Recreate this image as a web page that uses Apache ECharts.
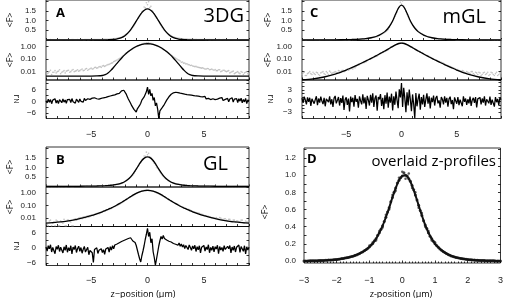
<!DOCTYPE html>
<html>
<head>
<meta charset="utf-8">
<script src="https://cdn.jsdelivr.net/npm/echarts@6/dist/echarts.min.js"></script>
<style>html,body{margin:0;padding:0;background:#fff}#chart{width:506px;height:298px}</style>
</head>
<body>
<div id="chart"></div>
<script>
// fit curves, sampled at zFit (µm)
var zFit = [-9,-8,-7,-6,-5,-4.5,-4,-3.75,-3.5,-3.25,-3,-2.75,-2.5,-2.25,-2,-1.75,-1.5,-1.25,-1,-0.75,-0.5,-0.25,0,0.25,0.5,0.75,1,1.25,1.5,1.75,2,2.25,2.5,2.75,3,3.25,3.5,3.75,4,4.5,5,6,7,8,9];
var fitA = [0.0045,0.0045,0.0045,0.0045,0.0045,0.0046,0.0050,0.0059,0.0080,0.0126,0.0223,0.041,0.075,0.132,0.221,0.351,0.524,0.737,0.975,1.212,1.416,1.555,1.605,1.555,1.416,1.212,0.975,0.737,0.524,0.351,0.221,0.132,0.075,0.041,0.0223,0.0126,0.0080,0.0059,0.0050,0.0046,0.0045,0.0045,0.0045,0.0045,0.0045];
var fitC = [0.0023,0.0027,0.0038,0.0065,0.0135,0.021,0.033,0.042,0.053,0.068,0.087,0.112,0.145,0.19,0.25,0.33,0.43,0.58,0.78,1.05,1.38,1.68,1.80,1.68,1.38,1.05,0.78,0.58,0.43,0.33,0.25,0.19,0.145,0.112,0.087,0.068,0.053,0.042,0.033,0.021,0.0135,0.0065,0.0038,0.0027,0.0023];
var fitB = [0.0040,0.0048,0.0062,0.0092,0.016,0.022,0.032,0.040,0.050,0.063,0.080,0.105,0.14,0.19,0.26,0.36,0.50,0.69,0.91,1.15,1.36,1.50,1.55,1.50,1.36,1.15,0.91,0.69,0.50,0.36,0.26,0.19,0.14,0.105,0.080,0.063,0.050,0.040,0.032,0.022,0.016,0.0092,0.0062,0.0048,0.0040];

// measured <F>, two profiles each: z = -9 + 0.2 i  and  z = -8.9 + 0.2 i
var dataA1 = [0.011,0.008,0.013,0.009,0.012, 0.010,0.014,0.009,0.012,0.011, 0.013,0.010,0.015,0.011,0.014, 0.012,0.016,0.013,0.018,0.015, 0.019,0.017,0.022,0.020,0.025, 0.028,0.026,0.034,0.038,0.047, 0.062,0.075,0.095,0.12,0.17, 0.25,0.33,0.44,0.58,0.74, 0.94,1.13,1.33,1.50,1.66, 1.82,1.68,1.52,1.34,1.14, 0.95,0.76,0.58,0.44,0.33, 0.25,0.18,0.13,0.10,0.078, 0.056,0.047,0.041,0.036,0.031, 0.028,0.025,0.023,0.021,0.019, 0.018,0.016,0.017,0.015,0.014, 0.015,0.012,0.014,0.011,0.013, 0.010,0.012,0.009,0.011,0.008, 0.010,0.007,0.009,0.008,0.010, 0.007];
var dataA2 = [0.007,0.010,0.006,0.009,0.008, 0.011,0.007,0.010,0.008,0.012, 0.009,0.013,0.010,0.012,0.011, 0.014,0.012,0.016,0.013,0.017, 0.016,0.021,0.019,0.024,0.022, 0.030,0.029,0.036,0.042,0.050, 0.068,0.082,0.11,0.14,0.20, 0.29,0.38,0.51,0.66,0.84, 1.04,1.24,1.46,1.71,1.93, 1.98,1.74,1.45,1.22,1.02, 0.84,0.66,0.50,0.38,0.28, 0.21,0.15,0.115,0.088,0.070, 0.058,0.049,0.042,0.035,0.032, 0.027,0.026,0.022,0.020,0.020, 0.016,0.018,0.014,0.016,0.013, 0.012,0.014,0.010,0.013,0.011, 0.011,0.008,0.010,0.007,0.009, 0.008,0.010,0.006,0.009,0.007];
var dataC1 = [0.006,0.009,0.005,0.008,0.007, 0.009,0.006,0.008,0.005,0.009, 0.007,0.010,0.006,0.009,0.008, 0.010,0.008,0.011,0.012,0.010, 0.014,0.013,0.017,0.016,0.020, 0.034,0.036,0.045,0.050,0.061, 0.088,0.10,0.12,0.15,0.17, 0.25,0.29,0.36,0.44,0.54, 0.80,0.98,1.22,1.45,1.70, 1.86,1.75,1.48,1.20,0.96, 0.76,0.62,0.50,0.41,0.33, 0.26,0.21,0.17,0.14,0.11, 0.088,0.077,0.062,0.055,0.045, 0.035,0.030,0.025,0.021,0.018, 0.013,0.012,0.010,0.011,0.008, 0.009,0.007,0.010,0.006,0.008, 0.009,0.005,0.008,0.006,0.009, 0.006,0.008,0.005,0.009,0.006, 0.008];
var dataC2 = [0.008,0.005,0.007,0.010,0.006, 0.007,0.009,0.006,0.008,0.010, 0.006,0.008,0.011,0.007,0.009, 0.009,0.012,0.009,0.013,0.011, 0.016,0.015,0.019,0.022,0.026, 0.038,0.042,0.052,0.058,0.072, 0.095,0.11,0.135,0.16,0.21, 0.27,0.33,0.40,0.49,0.65, 0.90,1.10,1.34,1.62,1.95, 2.02,1.62,1.32,1.08,0.88, 0.70,0.56,0.45,0.37,0.30, 0.23,0.19,0.155,0.125,0.10, 0.082,0.070,0.058,0.050,0.040, 0.032,0.028,0.023,0.020,0.016, 0.015,0.011,0.012,0.009,0.010, 0.008,0.010,0.007,0.009,0.006, 0.008,0.006,0.009,0.007,0.005, 0.009,0.006,0.007,0.005,0.008];
var dataB1 = [0.005,0.0025,0.007,0.004,0.0025, 0.006,0.0025,0.005,0.008,0.0025, 0.007,0.005,0.0025,0.009,0.008, 0.011,0.009,0.012,0.014,0.012, 0.018,0.016,0.021,0.024,0.026, 0.033,0.036,0.042,0.050,0.058, 0.078,0.092,0.11,0.14,0.18, 0.26,0.33,0.42,0.53,0.68, 0.90,1.08,1.28,1.42,1.58, 1.66,1.55,1.40,1.22,0.99, 0.86,0.68,0.52,0.40,0.31, 0.25,0.20,0.16,0.13,0.11, 0.082,0.072,0.058,0.050,0.044, 0.034,0.030,0.026,0.024,0.020, 0.017,0.015,0.014,0.012,0.011, 0.010,0.009,0.011,0.008,0.009, 0.007,0.008,0.006,0.007,0.005, 0.006,0.005,0.007,0.004,0.005, 0.004];
var dataB2 = [0.003,0.006,0.0025,0.005,0.007, 0.0025,0.006,0.004,0.0025,0.007, 0.006,0.0025,0.008,0.007,0.010, 0.010,0.013,0.011,0.015,0.014, 0.017,0.020,0.023,0.022,0.028, 0.035,0.040,0.046,0.054,0.066, 0.085,0.10,0.125,0.16,0.21, 0.29,0.37,0.47,0.60,0.78, 0.98,1.20,1.38,1.60,1.80, 1.74,1.52,1.32,1.14,0.94, 0.76,0.60,0.46,0.36,0.28, 0.22,0.18,0.145,0.12,0.095, 0.078,0.064,0.055,0.047,0.038, 0.032,0.028,0.025,0.021,0.019, 0.016,0.014,0.013,0.011,0.010, 0.011,0.008,0.010,0.007,0.009, 0.006,0.008,0.005,0.007,0.006, 0.005,0.007,0.004,0.006,0.005];

// normalised residuals r_N, z = -9 + 0.1 i
var resA = [0.3,-0.8,1.1,-0.5,0.9,-1.2,0.6,-0.3,1.3,-0.9, 0.5,-1.1,0.8,0.2,-0.7,1.2,-0.4,0.7,-1.0,0.9, 0.1,1.0,-0.6,1.4,-0.2,0.6,-0.9,1.1,0.3,-0.5, 1.2,0.0,0.8,-0.4,1.5,0.4,-0.3,1.3,0.6,1.0, 0.7,1.6,0.9,1.8,0.8,1.3,2.1,1.1,1.9,1.5, 2.3,1.8,2.6,2.0,2.9,2.4,3.2,2.7,3.4,3.0, 3.7,3.3,4.1,3.8,4.5,4.0,4.8,5.3,4.9,5.6, 4.6,3.8,2.5,1.2,0.3,-1.0,-2.2,-3.0,-4.1,-4.6, -5.4,-3.8,-4.5,-2.1,-1.0,0.6,-0.3,2.2,1.5,4.8, 7.2,3.5,6.1,2.8,4.0,0.5,1.9,-2.3,-0.8,-3.9, -8.6,-4.8,-5.6,-3.2,-3.9,-1.5,-0.9,0.6,1.4,2.3, 2.8,3.6,3.2,4.3,4.0,4.6,3.9,4.4,3.7,4.1, 3.5,3.9,3.2,3.6,2.9,3.4,2.7,3.3,2.5,3.1, 2.4,2.9,2.1,2.7,1.9,2.6,2.0,2.4,1.6,2.3, 1.8,2.5,1.2,2.0,1.5,2.2,0.9,1.8,1.3,2.0, 0.9,1.7,1.1,0.5,1.6,0.8,1.9,0.4,1.3,1.0, 0.3,1.5,-0.2,1.2,0.6,1.8,-0.4,1.1,0.2,1.4, -0.6,1.3,0.1,1.6,-0.8,0.9,-0.3,1.5,-1.1,0.7, 0.2];
var resC = [0.8,-0.5,1.2,0.3,-0.9,1.0,-0.2,0.9,-1.3,0.6, 1.1,-0.7,0.4,1.3,-1.1,0.7,-0.4,1.2,0.0,-0.8, 0.9,-1.4,0.6,1.0,-0.3,1.3,-0.9,0.5,-1.6,0.8, 1.4,-0.6,0.2,1.1,-1.2,0.8,-0.5,1.5,-2.4,0.4, 1.0,-1.0,0.7,-2.8,1.2,-0.3,0.9,-1.5,1.6,-0.2, 0.6,-1.8,1.3,0.1,-0.9,1.8,-0.6,1.0,-2.1,1.4, 0.3,-1.2,1.7,-0.4,2.1,-1.6,0.8,1.5,-2.6,1.1, 0.5,1.9,-1.3,0.9,-2.2,1.6,-0.7,2.3,-1.8,1.2, -0.4,2.0,-2.5,1.3,-1.0,2.6,0.2,-1.9,3.2,1.0, 4.9,-1.6,3.6,0.8,-3.0,2.4,-1.2,3.1,0.4,-2.7, 1.8,-0.8,-4.6,2.2,-1.4,0.6,2.0,-2.3,1.1,-0.9, 1.7,-1.6,0.4,2.1,-0.7,1.3,-2.0,0.9,-0.3,1.5, -1.2,0.8,1.4,-0.6,0.2,-1.8,1.1,0.5,-0.9,1.3, -0.4,0.9,-1.5,0.6,1.2,-0.8,0.3,-2.2,1.0,0.1, -0.7,1.1,-1.1,0.4,0.8,-1.4,1.3,-0.2,0.7,-1.0, 0.5,-0.6,1.2,-1.3,0.3,0.9,-0.5,1.1,-1.7,0.6, 0.2,1.0,-0.9,0.7,-0.4,1.3,-1.2,0.5,0.9,-0.6, 1.2,-1.0,0.4,0.8,-1.5,1.1,-0.3,0.6,-1.1,0.9, 0.4];
var resB = [0.4,-1.2,0.9,-0.3,1.3,-1.6,0.2,1.0,-2.3,0.6, -0.5,1.1,-1.4,0.3,0.8,-2.0,0.5,-0.9,1.2,-1.7, 0.1,-1.1,0.9,-2.4,0.4,-0.6,1.0,-1.8,-0.2,0.7, -1.3,0.2,-2.1,-0.5,0.6,-1.6,-0.8,0.3,-2.7,-1.0, -0.2,-1.9,-5.8,-0.6,-1.4,0.1,-2.2,-0.9,-1.5,-0.3, -1.8,-0.7,-2.5,-0.4,-1.2,0.2,-1.6,0.5,-0.8,0.9, -0.3,1.2,0.4,1.6,0.8,2.1,1.4,2.6,1.9,3.0, 2.5,3.4,2.9,3.8,3.2,4.1,3.5,2.8,3.6,2.2, 1.0,-0.8,-2.6,-4.3,-5.6,-3.1,-1.2,0.9,3.4,5.5, 7.9,4.6,6.3,2.1,3.7,-1.5,-3.8,-6.9,-4.4,-1.8, 0.8,2.9,4.6,3.6,5.0,3.8,4.4,3.2,3.9,2.7, 3.3,2.4,2.9,1.8,2.6,1.5,2.2,1.1,2.0,0.7, 1.6,0.4,1.3,-0.2,1.0,0.5,-0.6,1.2,0.2,-0.9, 0.8,-0.3,1.1,-1.4,0.5,-0.7,0.9,-2.0,0.3,-0.5, 1.0,-1.2,0.4,-0.6,1.3,-1.9,0.2,-0.9,0.7,-1.5, 0.5,-0.4,1.1,-2.3,0.6,-0.8,0.2,-1.3,0.9,-0.6, -1.1,0.7,-0.3,1.0,-2.0,0.4,-0.9,0.8,-1.6,0.3, -0.5,1.2,-1.8,0.6,-0.2,-1.3,0.9,-2.4,0.5,-0.8, 0.3];

// panel D: overlaid profiles (z = -3 + 0.1 i, -2.95 + 0.1 i, -1 + 0.1 i)
var profD1 = [0.000,0.001,0.002,0.003,0.004,0.005,0.007,0.009,0.012,0.015, 0.019,0.024,0.030,0.037,0.046,0.057,0.071,0.088,0.108,0.133, 0.165,0.205,0.26,0.33,0.41,0.51,0.62,0.74,0.85,0.94, 0.99,1.00,0.96,0.88,0.77,0.65,0.53,0.42,0.33,0.26, 0.20,0.16,0.125,0.098,0.077,0.060,0.047,0.037,0.029,0.023, 0.018,0.014,0.011,0.008,0.006,0.005,0.003,0.002,0.002,0.001, 0.000];
var profD2 = [0.001,0.002,0.002,0.004,0.005,0.006,0.008,0.011,0.013,0.018, 0.022,0.028,0.034,0.042,0.052,0.065,0.080,0.099,0.122,0.150, 0.188,0.235,0.30,0.37,0.46,0.57,0.69,0.80,0.91,0.97, 1.03,0.99,0.93,0.83,0.71,0.59,0.47,0.38,0.29,0.23, 0.18,0.14,0.112,0.087,0.068,0.053,0.042,0.033,0.026,0.020, 0.016,0.012,0.009,0.007,0.005,0.004,0.003,0.002,0.001,0.001];
var profD3 = [0.18,0.22,0.24,0.35,0.39,0.54,0.60,0.77,0.82,0.97,1.04,0.96,1.02,0.85,0.80,0.62,0.56,0.40,0.35,0.24,0.22];

// tick labels
var xLabAC = [-5, 0, 5];
var xLabD = [-3, -2, -1, 0, 1, 2, 3];
var yLabTop = [0.5, 1, 1.5];
var yLabResAB = [-6, 0, 6];
var yLabResC = [-3, 0, 3];
var yLabD = [0, 0.2, 0.4, 0.6, 0.8, 1, 1.2];
var yTickD = [0,0.1,0.2,0.3,0.4,0.5,0.6,0.7,0.8,0.9,1,1.1,1.2,1.3];

function seq(start, step, ys) {
  return ys.map(function (v, i) { return [Math.round((start + i * step) * 1000) / 1000, v]; });
}
function pairs(xs, ys) {
  return ys.map(function (v, i) { return [xs[i], v]; });
}
function minus(v) { return v < 0 ? '\u2212' + (-v) : String(v); }
function fix1(v) { return v.toFixed(1); }
function fix2(v) { return v.toFixed(2); }

var tickStyle = {color: '#000', width: 0.8};
var grids = [], xAxes = [], yAxes = [], series = [];

function addPanel(box, x, y) {
  var g = grids.length;
  grids.push({left: box[0], top: box[1], width: box[2], height: box[3], show: true, borderColor: '#000', borderWidth: 0.8});
  xAxes.push({
    gridIndex: g, type: 'value', min: x.min, max: x.max, interval: x.interval,
    axisLine: {show: false, onZero: false}, splitLine: {show: false},
    axisTick: {inside: true, length: 2.5, lineStyle: tickStyle},
    minorTick: {show: !!x.minor, splitNumber: x.minor || 5, length: 1.5, lineStyle: tickStyle},
    axisLabel: x.labels ? {customValues: x.labels, margin: x.margin, formatter: minus, fontSize: 9, color: '#222', fontFamily: 'Liberation Sans'} : {show: false}
  });
  ['left', 'right'].forEach(function (side) {
    var ax = {
      gridIndex: g, type: y.type || 'value', position: side, min: y.min, max: y.max,
      axisLine: {show: false, onZero: false}, splitLine: {show: false},
      axisTick: {inside: true, length: 2.5, lineStyle: tickStyle},
      axisLabel: {show: false}
    };
    if (y.ticks) ax.axisTick.customValues = y.ticks;
    if (side === 'left') {
      ax.axisLabel = {show: true, margin: y.margin || 10, formatter: y.fmt, fontSize: 8, color: '#222', fontFamily: 'Liberation Sans'};
      if (y.labels) ax.axisLabel.customValues = y.labels;
      else { ax.axisLabel.showMinLabel = false; ax.axisLabel.showMaxLabel = false; }
    }
    yAxes.push(ax);
  });
  return g;
}
function addLine(g, data, color, width, smooth) {
  series.push({type: 'line', xAxisIndex: g, yAxisIndex: 2 * g, data: data, showSymbol: false,
    smooth: smooth || false, lineStyle: {color: color, width: width}, silent: true, z: 3});
}
function addDots(g, data, color, size) {
  series.push({type: 'scatter', xAxisIndex: g, yAxisIndex: 2 * g, data: data, symbolSize: size,
    itemStyle: {color: color}, silent: true, z: 2});
}

var xPlain = {min: -9, max: 9, interval: 1};
var yTop = {min: -0.03, max: 2.07, ticks: [0, 0.5, 1, 1.5, 2], labels: yLabTop, fmt: fix1};
var yLog = {type: 'log', min: 0.0022, max: 2.9, fmt: fix2};

function threePanel(left, top, hts, fit, d1, d2, res, resAxis, labMargin) {
  var w = left > 200 ? 199 : 203, t = top;
  var g1 = addPanel([left, t, w, hts[0]], xPlain, yTop); t += hts[0];
  var g2 = addPanel([left, t, w, hts[1]], xPlain, yLog); t += hts[1];
  var g3 = addPanel([left, t, w, hts[2]],
    {min: -9, max: 9, interval: 1, labels: xLabAC, margin: labMargin}, resAxis);
  [g1, g2].forEach(function (g) {
    addDots(g, seq(-9, 0.2, d1), '#b4b4b4', 1.6);
    addDots(g, seq(-8.9, 0.2, d2), '#b4b4b4', 1.6);
    addLine(g, pairs(zFit, fit), '#000', 1.3, 0.3);
  });
  addLine(g3, seq(-9, 0.1, res), '#000', 1.25);
}

threePanel(46, 0, [40.5, 39.5, 38.5], fitA, dataA1, dataA2, resA,
  {min: -8.7, max: 10.8, ticks: [-6, -3, 0, 3, 6, 9], labels: yLabResAB, fmt: minus}, 12);
threePanel(302, 0, [40.5, 39.5, 38.5], fitC, dataC1, dataC2, resC,
  {min: -4.7, max: 5.7, ticks: [-3, -2, -1, 0, 1, 2, 3, 4, 5], labels: yLabResC, fmt: minus}, 12);
threePanel(46, 147, [40, 39.5, 39], fitB, dataB1, dataB2, resB,
  {min: -7, max: 8.6, ticks: [-6, -3, 0, 3, 6], labels: yLabResAB, fmt: minus}, 11);

var gd = addPanel([304, 148, 199, 115],
  {min: -3, max: 3, interval: 1, minor: 10, labels: xLabD, margin: 13},
  {min: -0.023, max: 1.317, ticks: yTickD, labels: yLabD, fmt: fix1, margin: 8});
addLine(gd, seq(-3, 0.1, profD1), '#111', 2, 0.3);
addDots(gd, seq(-3, 0.1, profD1), '#111', 3);
addDots(gd, seq(-2.95, 0.1, profD2), '#111', 3);
addDots(gd, seq(-1, 0.1, profD3), '#333', 2.5);

function txt(x, y, text, font, align, rot) {
  return {type: 'text', x: x, y: y, rotation: rot || 0, silent: true,
    style: {text: text, font: font, fill: '#000', align: align || 'center', verticalAlign: 'middle'}};
}
var fLab = '9px "Open Sans"';
var rN = {type: 'text', silent: true, rotation: -Math.PI / 2,
  style: {text: '{r|r}{n|N}', fill: '#000', align: 'center', verticalAlign: 'middle',
    rich: {r: {fontSize: 9, fontFamily: 'Open Sans'}, n: {fontSize: 7, fontFamily: 'Open Sans', padding: [3, 0, 0, 0]}}}};

var graphics = [
  txt(56, 13, 'A', 'bold 13px "Open Sans"', 'left'),
  txt(310, 13, 'C', 'bold 13px "Open Sans"', 'left'),
  txt(56, 160, 'B', 'bold 13px "Open Sans"', 'left'),
  txt(307, 159, 'D', 'bold 13px "Open Sans"', 'left'),
  txt(244, 16, '3DG', '20px "Open Sans"', 'right'),
  txt(486, 17, 'mGL', '20px "Open Sans"', 'right'),
  txt(228, 164, 'GL', '20px "Open Sans"', 'right'),
  txt(496, 162, 'overlaid z-profiles', '15px "Open Sans"', 'right'),
  txt(10, 20, '<F>', fLab, 'center', Math.PI / 2),
  txt(10, 60, '<F>', fLab, 'center', Math.PI / 2),
  txt(268, 20, '<F>', fLab, 'center', Math.PI / 2),
  txt(268, 60, '<F>', fLab, 'center', Math.PI / 2),
  txt(10, 167, '<F>', fLab, 'center', Math.PI / 2),
  txt(10, 207, '<F>', fLab, 'center', Math.PI / 2),
  txt(265, 212, '<F>', fLab, 'center', Math.PI / 2),
  Object.assign({x: 17, y: 99}, rN),
  Object.assign({x: 271, y: 99}, rN),
  Object.assign({x: 17, y: 246}, rN),
  txt(143, 294, 'z\u2212position (\u00b5m)', fLab),
  txt(401, 294, 'z-position (\u00b5m)', fLab)
];

var chart = echarts.init(document.getElementById('chart'), null, {renderer: 'canvas'});
chart.setOption({
  animation: false,
  backgroundColor: '#fff',
  grid: grids,
  xAxis: xAxes,
  yAxis: yAxes,
  series: series,
  graphic: graphics
});
</script>
</body>
</html>
